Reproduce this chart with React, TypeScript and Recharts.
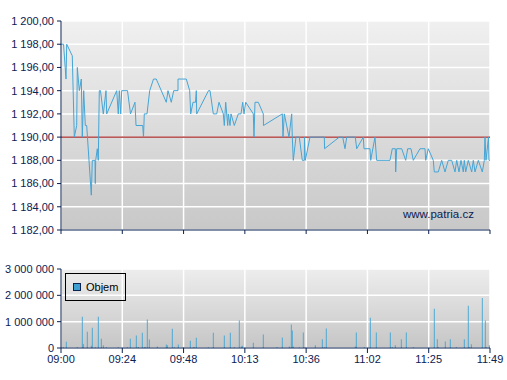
import React from 'react';
import {
  LineChart,
  Line,
  XAxis,
  YAxis,
  CartesianGrid,
  ReferenceLine,
  ComposedChart,
  Bar,
  Legend,
} from 'recharts';

// ---- data ----
const timeLabels = ['09:00', '09:24', '09:48', '10:13', '10:36', '11:02', '11:25', '11:49'];
const sessionMinutes = 169; // 09:00 -> 11:49
const priceTicks = [1182, 1184, 1186, 1188, 1190, 1192, 1194, 1196, 1198, 1200];
const volumeTicks = [0, 1000000, 2000000, 3000000];
const referencePrice = 1190;

// minutes after 09:00
const priceTime = [
  0, 1.0, 1.97, 2.25, 4.45, 5.24, 6.18, 6.42, 7.21, 8.0, 8.39, 8.94, 9.57, 10.12, 11.94, 12.33,
  13.39, 13.51, 13.67, 14.3, 14.69, 15.09, 15.56, 16.66, 17.73, 18.0, 21.94, 22.57, 22.97, 23.52,
  23.91, 26.2, 27.38, 29.15, 29.55, 32.18, 32.5, 32.81, 33.88, 34.94, 36.44, 37.54, 41.48, 42.15,
  43.45, 44.4, 46.09, 46.1, 49.36, 50.7, 51.09, 52.0, 52.98, 53.3, 53.46, 58.1, 58.7, 60.0, 61.34,
  62.24, 63.94, 64.33, 64.88, 65.67, 65.91, 66.58, 66.97, 68.27, 69.85, 70.91, 71.58, 72.09, 72.76,
  75.76, 76.03, 76.42, 77.72, 79.69, 79.77, 87.18, 87.45, 87.97, 89.82, 90.88, 91.12, 91.51, 92.57,
  93.87, 95.06, 95.85, 95.93, 96.24, 98.09, 103.72, 103.84, 109.63, 110.97, 111.88, 112.55, 115.94,
  116.49, 119.09, 119.36, 121.73, 122.0, 123.69, 124.36, 129.6, 130.51, 131.7, 131.85, 132.24,
  134.21, 135.79, 136.58, 137.88, 138.78, 141.42, 143.39, 143.67, 144.69, 146.66, 147.06, 148.63,
  149.97, 151.27, 152.57, 153.91, 155.21, 155.88, 156.79, 157.58, 158.48, 158.88, 159.43, 160.45,
  161.79, 162.42, 163.09, 164.39, 165.97, 166.76, 167.03, 167.42, 168.41, 168.6, 169,
];
const priceValue = [
  1198, 1198, 1195, 1198, 1197, 1190, 1191, 1196, 1194, 1195, 1190, 1194, 1191, 1191, 1185, 1188,
  1188, 1186, 1188, 1189, 1188, 1194, 1194, 1192, 1194, 1192, 1194, 1192, 1194, 1192,
  1194, 1194, 1192, 1193, 1191, 1191, 1190, 1192, 1192, 1194, 1195, 1195, 1193, 1194,
  1193, 1194, 1194, 1195, 1195, 1194, 1192, 1193, 1193, 1194, 1192, 1194, 1194, 1192, 1192,
  1193, 1192, 1191, 1193, 1191, 1192, 1191, 1192, 1191, 1192, 1192, 1193, 1192, 1193,
  1192, 1190, 1193, 1193, 1192, 1191, 1192, 1190, 1192, 1190, 1192, 1190, 1188, 1190,
  1190, 1188, 1188, 1190, 1188, 1190, 1190, 1189, 1190, 1190, 1189, 1190, 1190,
  1189, 1190, 1189, 1189, 1188, 1190, 1188, 1188, 1189, 1189, 1187, 1189,
  1189, 1188, 1189, 1189, 1188, 1189, 1189, 1188, 1189, 1188, 1187, 1187,
  1188, 1187, 1188, 1188, 1187, 1188, 1187, 1188, 1187, 1188, 1187, 1188,
  1187, 1188, 1187, 1188, 1187, 1188, 1190, 1188, 1190, 1188, 1188,
];

const volumeTime = [
  0.92, 2.1, 6.43, 8.4, 8.8, 10.37, 11.95, 12.34, 13.52, 14.71, 15.89, 16.68, 17.86, 22.58, 26.13,
  27.31, 29.68, 30.46, 32.04, 32.83, 33.22, 34.01, 34.8, 37.95, 41.49, 41.89, 43.86, 44.64, 46.22,
  48.19, 50.95, 52.13, 52.52, 53.31, 58.04, 60.01, 64.34, 66.71, 68.28, 70.25, 71.04, 71.43, 75.77,
  79.7, 85.1, 87.19, 89.95, 90.74, 91.13, 91.52, 93.89, 95.46, 96.12, 100.19, 102.95, 103.73,
  104.52, 115.95, 116.34, 119.49, 121.86, 124.22, 129.74, 130.52, 131.7, 134.07, 136.04, 138.8,
  147.07, 148.25, 148.64, 151.4, 153.37, 155.73, 158.89, 160.46, 160.86, 161.65, 165.98, 167.16,
  167.55, 168.74,
];
const volumeValue = [
  30000, 240000, 30000, 1190000, 150000, 620000, 90000, 770000, 30000, 1190000, 350000, 100000, 30000, 30000, 30000,
  350000, 470000, 40000, 580000, 30000, 30000, 1080000, 320000, 60000, 130000, 100000, 730000, 30000, 130000,
  30000, 280000, 30000, 30000, 390000, 30000, 580000, 470000, 580000, 30000, 1040000, 60000, 90000, 200000,
  510000, 30000, 400000, 60000, 890000, 660000, 60000, 30000, 590000, 30000, 100000, 330000, 30000,
  740000, 60000, 590000, 30000, 1150000, 590000, 590000, 30000, 100000, 330000, 590000, 30000,
  1490000, 330000, 30000, 250000, 330000, 30000, 330000, 1600000, 30000, 140000, 1900000, 1040000,
  30000, 100000,
];

// ---- tables built from the arrays ----
const priceData = priceTime.map((t, i) => ({ t, price: priceValue[i] }));
const volumeData = volumeTime.map((t, i) => ({ t, volume: volumeValue[i] }));
const xTicks = timeLabels.map((_, i) => (sessionMinutes * i) / (timeLabels.length - 1));

// thousands grouped with a no-break space
const group = (n: number) => String(n).replace(/\B(?=(\d{3})+(?!\d))/g, '\u00a0');
const fmtPrice = (v: number) => {
  const [i, d] = v.toFixed(2).split('.');
  return group(Number(i)) + ',' + d;
};
const fmtVolume = (v: number) => group(v);
const fmtTime = (_v: number, i: number) => timeLabels[i] ?? '';

const NAVY = '#0b2152';
const FONT = '"Liberation Sans", Arial, sans-serif';
const tickStyle = { fill: NAVY, fontSize: 11, fontFamily: FONT };
const LINE_BLUE = '#45a5d6';

const LegendBox = () => (
  <div
    style={{
      width: 59,
      height: 26,
      border: '1px solid #000',
      display: 'flex',
      alignItems: 'center',
      fontFamily: FONT,
      fontSize: 11,
      color: '#000',
      boxSizing: 'content-box',
    }}
  >
    <span
      style={{
        display: 'inline-block',
        width: 6,
        height: 6,
        background: '#3ea0d0',
        border: '1px solid #0b2152',
        marginLeft: 7,
        marginRight: 5,
      }}
    />
    <span>Objem</span>
  </div>
);

export default function App() {
  return (
    <div style={{ position: 'absolute', left: 0, top: 0, width: 507, height: 380, background: '#fff' }}>
      <div style={{ position: 'absolute', left: 0, top: 0 }}>
        <LineChart width={507} height={240} data={priceData} margin={{ top: 21, right: 17, bottom: 0, left: 0 }}>
          <defs>
            <linearGradient id="bgTop" x1="0" y1="0" x2="0" y2="1">
              <stop offset="0%" stopColor="#f0f0f0" />
              <stop offset="100%" stopColor="#c8c8c8" />
            </linearGradient>
          </defs>
          <CartesianGrid fill="url(#bgTop)" stroke="#ffffff" strokeWidth={1.5} />
          <XAxis
            dataKey="t"
            type="number"
            domain={[0, sessionMinutes]}
            ticks={xTicks}
            tickFormatter={() => ''}
            height={10}
            axisLine={{ stroke: NAVY }}
            tickLine={{ stroke: NAVY }}
            tickSize={4}
            allowDataOverflow
          />
          <YAxis
            type="number"
            domain={[1182, 1200]}
            ticks={priceTicks}
            tickFormatter={fmtPrice}
            width={61}
            tick={tickStyle}
            axisLine={{ stroke: NAVY }}
            tickLine={{ stroke: NAVY }}
            tickSize={4}
            tickMargin={3}
            interval={0}
          />
          <ReferenceLine y={referencePrice} stroke="#a52626" strokeWidth={1.2} ifOverflow="extendDomain" />
          <Line
            type="linear"
            dataKey="price"
            stroke={LINE_BLUE}
            strokeWidth={1}
            dot={false}
            isAnimationActive={false}
          />
        </LineChart>
      </div>
      <div
        style={{
          position: 'absolute',
          left: 403,
          top: 208,
          fontFamily: FONT,
          fontSize: 11.5,
          lineHeight: '12px',
          color: NAVY,
          whiteSpace: 'nowrap',
        }}
      >
        www.patria.cz
      </div>
      <div style={{ position: 'absolute', left: 0, top: 249 }}>
        <ComposedChart width={507} height={129} data={volumeData} margin={{ top: 20, right: 17, bottom: 0, left: 0 }}>
          <defs>
            <linearGradient id="bgBottom" x1="0" y1="0" x2="0" y2="1">
              <stop offset="0%" stopColor="#ededed" />
              <stop offset="100%" stopColor="#c6c6c6" />
            </linearGradient>
          </defs>
          <CartesianGrid fill="url(#bgBottom)" stroke="#ffffff" strokeWidth={1.5} />
          <XAxis
            dataKey="t"
            type="number"
            domain={[0, sessionMinutes]}
            ticks={xTicks}
            tickFormatter={fmtTime}
            height={30}
            tick={tickStyle}
            axisLine={{ stroke: NAVY }}
            tickLine={{ stroke: NAVY }}
            tickSize={5}
            interval={0}
            allowDataOverflow
          />
          <YAxis
            type="number"
            domain={[0, 3000000]}
            ticks={volumeTicks}
            tickFormatter={fmtVolume}
            width={61}
            tick={tickStyle}
            axisLine={{ stroke: NAVY }}
            tickLine={{ stroke: NAVY }}
            tickSize={4}
            tickMargin={3}
            interval={0}
          />
          <Legend
            layout="vertical"
            align="center"
            verticalAlign="middle"
            wrapperStyle={{ left: 65, top: 24, width: 61, height: 28 }}
            content={() => <LegendBox />}
          />
          <Bar dataKey="volume" name="Objem" fill="#3ea4d3" barSize={1.5} isAnimationActive={false} />
        </ComposedChart>
      </div>
    </div>
  );
}
